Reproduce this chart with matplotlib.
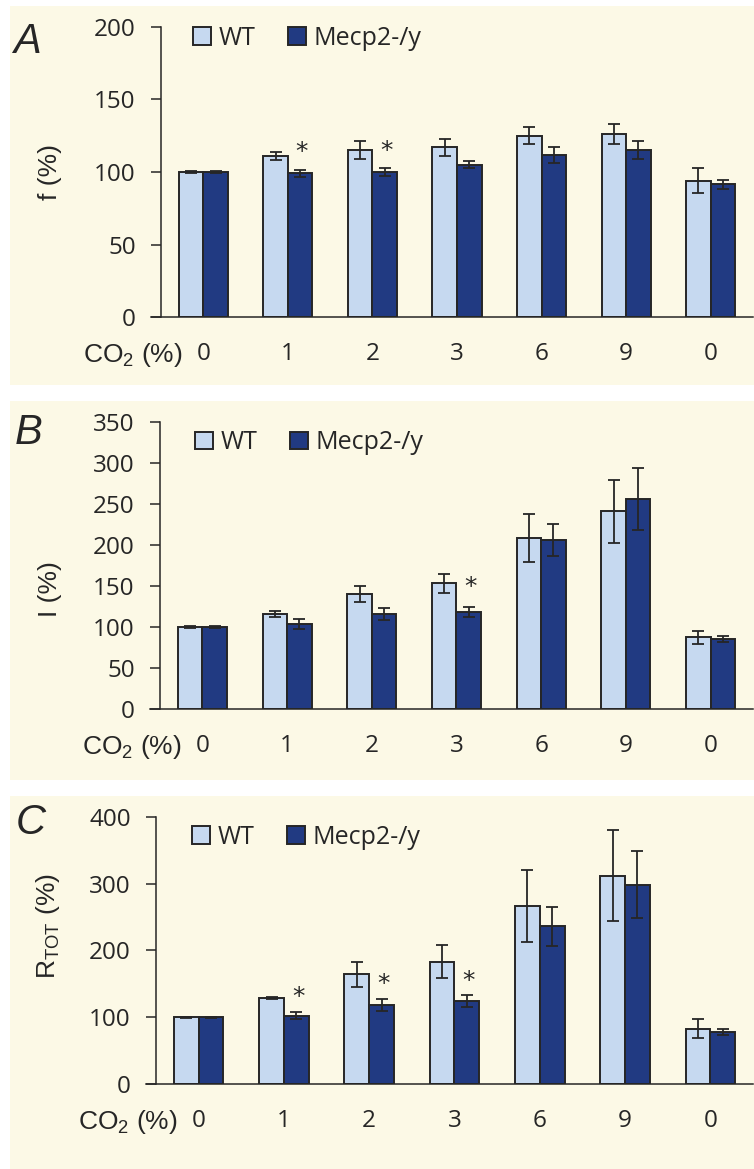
import matplotlib
matplotlib.use("Agg")
import matplotlib.pyplot as plt
import numpy as np
from matplotlib.patches import Rectangle

plt.rcParams['font.family'] = ['Open Sans', 'DejaVu Sans']
plt.rcParams['mathtext.fontset'] = 'custom'
plt.rcParams['mathtext.rm'] = 'Liberation Sans'
plt.rcParams['mathtext.it'] = 'Liberation Sans:italic'

# data
co2 = ['0', '1', '2', '3', '6', '9', '0']
series = ['WT', 'Mecp2-/y']

f_wt = [100, 111, 115, 117, 125, 126, 94]
f_wt_err = [1, 3, 6, 6, 6, 7, 8.5]
f_ko = [100, 99, 100, 105, 112, 115, 91.5]
f_ko_err = [1, 2.3, 2.7, 2.4, 5.5, 6.3, 3.2]
f_stars = [(1, 117), (2, 118)]

i_wt = [100, 116, 140, 153, 208, 241, 87]
i_wt_err = [1, 3.5, 10, 12, 29.5, 38.5, 7.5]
i_ko = [100, 103, 116, 118, 206, 256, 85]
i_ko_err = [1, 6, 7.5, 6.5, 19.5, 38, 4]
i_stars = [(3, 154)]

r_wt = [100, 129, 164, 183, 266, 312, 83]
r_wt_err = [1, 1.5, 19, 24.5, 54, 68, 13.7]
r_ko = [100, 102, 118, 124, 236, 298, 78]
r_ko_err = [1, 5, 9.5, 9.5, 29.5, 50, 4]
r_stars = [(1, 138), (2, 157), (3, 161)]

W, H = 754, 1169
light = '#C6D9F0'
dark = '#213A82'
ink = '#262626'
cream = '#FCF9E6'

fig = plt.figure(figsize=(W / 100, H / 100), dpi=100)


def box(x0, y0, x1, y1):
    # pixel box (top-left origin) -> figure fraction rect
    return [x0 / W, 1 - y1 / H, (x1 - x0) / W, (y1 - y0) / H]


for y0, y1 in [(6, 385), (401, 780), (796, 1169)]:
    r = box(10, y0, 754, y1)
    fig.patches.append(Rectangle((r[0], r[1]), r[2], r[3], transform=fig.transFigure,
                                 facecolor=cream, edgecolor='none', zorder=-5))

panels = [
    dict(rect=box(161, 26.7, 753, 317.3), wt=f_wt, wte=f_wt_err, ko=f_ko, koe=f_ko_err,
         stars=f_stars, ymax=200, step=50, ylabel='f (%)', lab_xy=(-0.167, 0.5),
         leg=(0.054, 0.960), letter='A', let_xy=(13, 21.7)),
    dict(rect=box(160, 422, 753, 708.7), wt=i_wt, wte=i_wt_err, ko=i_ko, koe=i_ko_err,
         stars=i_stars, ymax=350, step=50, ylabel='I (%)', lab_xy=(-0.165, 0.4175),
         leg=(0.059, 0.927), letter='B', let_xy=(15, 413)),
    dict(rect=box(156, 816.7, 753, 1084), wt=r_wt, wte=r_wt_err, ko=r_ko, koe=r_ko_err,
         stars=r_stars, ymax=400, step=100, ylabel=r'R$_{\mathregular{TOT}}$ (%)',
         lab_xy=(-0.157, 0.592), leg=(0.060, 0.923), letter='C', let_xy=(16, 802.7)),
]

x = np.arange(len(co2))
w = 0.29
fs = 17.5
lfs = 19

for p in panels:
    ax = fig.add_axes(p['rect'])
    ax.set_facecolor('none')
    ax.bar(x - w / 2, p['wt'], w, color=light, edgecolor=ink, linewidth=1.4, label=series[0], zorder=2)
    ax.bar(x + w / 2, p['ko'], w, color=dark, edgecolor=ink, linewidth=1.4, label=series[1], zorder=2)
    ax.errorbar(x - w / 2, p['wt'], yerr=p['wte'], fmt='none', ecolor=ink,
                elinewidth=1.3, capsize=4, capthick=1.3, zorder=3)
    ax.errorbar(x + w / 2, p['ko'], yerr=p['koe'], fmt='none', ecolor=ink,
                elinewidth=1.3, capsize=4, capthick=1.3, zorder=3)
    for gi, yv in p['stars']:
        ax.annotate('*', xy=(gi + w / 2 + 0.02, yv), xytext=(0, -3.5), textcoords='offset points',
                    ha='center', va='center', fontsize=18, color=ink, family='DejaVu Sans')

    ax.set_xlim(-0.5, len(co2) - 0.5)
    ax.set_ylim(0, p['ymax'])
    ax.set_yticks(np.arange(0, p['ymax'] + 1, p['step']))
    ax.set_xticks(x, co2)
    ax.tick_params(axis='y', length=7.2, width=1.1, color=ink, labelsize=fs, labelcolor=ink, pad=11)
    ax.tick_params(axis='x', length=0, labelsize=fs, labelcolor=ink, pad=18)
    for s in ['top', 'right']:
        ax.spines[s].set_visible(False)
    for s in ['left', 'bottom']:
        ax.spines[s].set_color(ink)
        ax.spines[s].set_linewidth(1.1)
    ax.spines['bottom'].set_bounds(-0.5 - 10 / (p['rect'][2] * W / 7), len(co2) - 0.5)
    ax.spines['bottom'].set_clip_on(False)

    ax.set_ylabel(p['ylabel'], fontsize=lfs, color=ink, family='Liberation Sans')
    ax.yaxis.set_label_coords(*p['lab_xy'])

    ax.annotate(r'$\mathregular{CO_2}$ (%)', xy=(-0.25, 0), xycoords=('data', 'axes fraction'),
                xytext=(0, -27.4), textcoords='offset points', ha='right', va='center',
                fontsize=lfs, color=ink, family='Liberation Sans')

    ax.legend(loc='center left', bbox_to_anchor=p['leg'], ncol=2, frameon=False,
              prop={'size': 18}, handlelength=0.72, handleheight=0.68, handletextpad=0.3,
              columnspacing=1.3, borderpad=0, borderaxespad=0, labelcolor=ink)

    lx, ly = p['let_xy']
    fig.text(lx / W, 1 - ly / H, p['letter'], ha='left', va='top', fontsize=30,
             style='italic', family='Liberation Sans', color=ink)

fig.savefig('out.png', dpi=100)
